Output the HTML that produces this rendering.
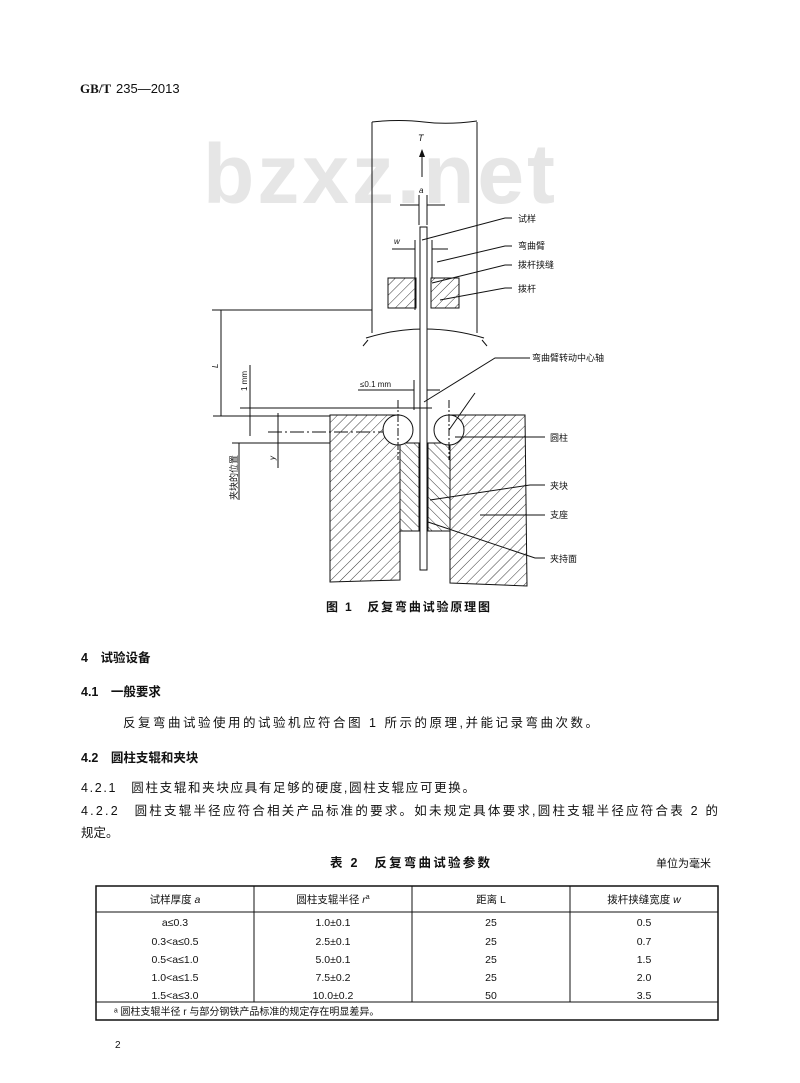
<!DOCTYPE html>
<html><head><meta charset="utf-8"><style>
html,body{margin:0;padding:0;background:#fff}
svg{display:block}
text{font-family:"Liberation Sans","Noto Sans CJK SC",sans-serif;fill:#111}
</style></head><body>
<svg width="800" height="1083" viewBox="0 0 800 1083" xmlns="http://www.w3.org/2000/svg">
<defs>
<pattern id="h" width="7" height="7" patternUnits="userSpaceOnUse" patternTransform="rotate(45)">
<line x1="0" y1="0" x2="0" y2="7" stroke="#222" stroke-width="0.9"/></pattern>
<pattern id="h2" width="7" height="7" patternUnits="userSpaceOnUse" patternTransform="rotate(-45)">
<line x1="0" y1="0" x2="0" y2="7" stroke="#222" stroke-width="0.9"/></pattern>
<marker id="ar" markerWidth="8" markerHeight="6" refX="7" refY="3" orient="auto"><path d="M0,0L8,3L0,6z" fill="#111"/></marker>
</defs>
<text x="80" y="93" font-size="13" font-weight="bold" style="font-family:'Liberation Serif',serif">GB/T</text>
<text x="116" y="93" font-size="13">235—2013</text>

<text x="203" y="203" font-size="84" font-weight="bold" style="fill:#e6e6e6" textLength="352">bzxz.net</text>

<g stroke="#111" fill="none" stroke-width="1">
<path d="M372,122 L372,333 M477,122 L477,333 M372,122 Q400,119 424,122 T477,121"/>
<path d="M366,338 Q424,320 484,338" />
<path d="M368,340 l-5,6 M482,340 l5,6"/>
<line x1="422" y1="177" x2="422" y2="150" marker-end="url(#ar)"/>
<line x1="419" y1="195" x2="419" y2="225"/><line x1="427" y1="195" x2="427" y2="225"/>
<line x1="400" y1="205" x2="419" y2="205"/><line x1="427" y1="205" x2="445" y2="205"/>
<rect x="420" y="227" width="7" height="343" fill="#fff"/>
<line x1="392" y1="249" x2="415" y2="249"/><line x1="432" y1="249" x2="448" y2="249"/>
<line x1="415" y1="240" x2="415" y2="310"/><line x1="432" y1="240" x2="432" y2="278"/>
<rect x="388" y="278" width="28" height="30" fill="url(#h)"/>
<rect x="431" y="278" width="28" height="30" fill="url(#h)"/>
<path d="M422,240 L505,218 L512,218"/>
<path d="M437,262 L505,246 L512,246"/>
<path d="M432,283 L505,265 L512,265"/>
<path d="M440,300 L505,288 L512,288"/>
<line x1="212" y1="310" x2="372" y2="310"/>
<line x1="221" y1="310" x2="221" y2="416"/>
<line x1="213" y1="416" x2="330" y2="416"/>
<line x1="240" y1="408" x2="432" y2="408"/>
<line x1="250" y1="365" x2="250" y2="436"/>
<line x1="268" y1="432" x2="460" y2="432" stroke-dasharray="14,3,2,3"/>
<line x1="278" y1="413" x2="278" y2="468"/>
<line x1="232" y1="443" x2="330" y2="443"/>
<line x1="239" y1="443" x2="239" y2="500"/>
<line x1="358" y1="390" x2="414" y2="390"/><line x1="414" y1="380" x2="414" y2="410"/>
<line x1="427" y1="390" x2="440" y2="390"/>
<path d="M424,402 L495,358 L530,358"/>
<path d="M330,415 L400,415 L400,580 L330,582 Z" fill="url(#h)"/>
<path d="M450,415 L525,415 L527,586 L450,583 Z" fill="url(#h)"/>
<rect x="400" y="443" width="19" height="88" fill="url(#h2)"/>
<rect x="428" y="443" width="22" height="88" fill="url(#h2)"/>
<line x1="400" y1="531" x2="450" y2="531"/>
<rect x="400" y="414" width="50" height="29" fill="#fff" stroke="none"/>
<line x1="400" y1="443" x2="450" y2="443"/>
<circle cx="398" cy="430" r="15" fill="#fff"/>
<circle cx="449" cy="430" r="15" fill="#fff"/>
<line x1="398" y1="400" x2="398" y2="460" stroke-dasharray="8,2,2,2"/>
<line x1="449" y1="400" x2="449" y2="460" stroke-dasharray="8,2,2,2"/>
<line x1="449" y1="430" x2="470" y2="400"/><line x1="470" y1="400" x2="475" y2="393"/>
<rect x="420" y="408" width="7" height="162" fill="#fff"/>
<path d="M455,437 L545,437"/>
<path d="M430,500 L530,485 L545,485"/>
<path d="M480,515 L545,515"/>
<path d="M428,522 L535,558 L545,558"/>
<rect x="96" y="886" width="622" height="134" stroke-width="1.5"/>
<line x1="96" y1="912" x2="718" y2="912"/>
<line x1="96" y1="1002" x2="718" y2="1002"/>
<line x1="254" y1="886" x2="254" y2="1002"/><line x1="412" y1="886" x2="412" y2="1002"/><line x1="570" y1="886" x2="570" y2="1002"/>
</g>
<g font-size="9">
<text x="418" y="141" font-style="italic">T</text>
<text x="419" y="193" font-style="italic" font-size="8">a</text>
<text x="394" y="244" font-style="italic" font-size="8">w</text>
<text x="518" y="222">试样</text>
<text x="518" y="249">弯曲臂</text>
<text x="518" y="268">拨杆挟缝</text>
<text x="518" y="292">拨杆</text>
<text x="532" y="361">弯曲臂转动中心轴</text>
<text x="360" y="387" font-size="8">≤0.1 mm</text>
<text x="550" y="441">圆柱</text>
<text x="550" y="489">夹块</text>
<text x="550" y="518">支座</text>
<text x="550" y="562">夹持面</text>
<text x="0" y="0" font-size="8" transform="translate(247,391) rotate(-90)">1 mm</text>
<text x="0" y="0" font-size="8" font-style="italic" transform="translate(218,368) rotate(-90)">L</text>
<text x="0" y="0" font-size="8" font-style="italic" transform="translate(275,460) rotate(-90)">y</text>
<text x="0" y="0" font-size="9" transform="translate(237,500) rotate(-90)">夹块的位置</text>
</g>
<text x="326" y="611" font-size="12" font-weight="bold" textLength="164">图 1　反复弯曲试验原理图</text>

<g font-size="12.5">
<text x="81" y="662" font-weight="bold">4　试验设备</text>
<text x="81" y="696" font-weight="bold">4.1　一般要求</text>
<text x="123" y="727" textLength="475">反复弯曲试验使用的试验机应符合图 1 所示的原理,并能记录弯曲次数。</text>
<text x="81" y="762" font-weight="bold">4.2　圆柱支辊和夹块</text>
<text x="81" y="792" textLength="394">4.2.1　圆柱支辊和夹块应具有足够的硬度,圆柱支辊应可更换。</text>
<text x="81" y="815" textLength="637">4.2.2　圆柱支辊半径应符合相关产品标准的要求。如未规定具体要求,圆柱支辊半径应符合表 2 的</text>
<text x="81" y="837">规定。</text>
<text x="330" y="867" font-weight="bold" textLength="160">表 2　反复弯曲试验参数</text>
<text x="656" y="867" font-size="11">单位为毫米</text>
</g>
<g font-size="10.5" text-anchor="middle">
<text x="175" y="903">试样厚度 <tspan font-style="italic">a</tspan></text>
<text x="333" y="903">圆柱支辊半径 <tspan font-style="italic">r</tspan><tspan font-size="7" dy="-4">a</tspan></text>
<text x="491" y="903">距离 L</text>
<text x="644" y="903">拨杆挟缝宽度 <tspan font-style="italic">w</tspan></text>
<text x="175" y="926">a≤0.3</text><text x="333" y="926">1.0±0.1</text><text x="491" y="926">25</text><text x="644" y="926">0.5</text>
<text x="175" y="945">0.3&lt;a≤0.5</text><text x="333" y="945">2.5±0.1</text><text x="491" y="945">25</text><text x="644" y="945">0.7</text>
<text x="175" y="963">0.5&lt;a≤1.0</text><text x="333" y="963">5.0±0.1</text><text x="491" y="963">25</text><text x="644" y="963">1.5</text>
<text x="175" y="981">1.0&lt;a≤1.5</text><text x="333" y="981">7.5±0.2</text><text x="491" y="981">25</text><text x="644" y="981">2.0</text>
<text x="175" y="999">1.5&lt;a≤3.0</text><text x="333" y="999">10.0±0.2</text><text x="491" y="999">50</text><text x="644" y="999">3.5</text>
</g>
<text x="114" y="1015" font-size="10">ᵃ  圆柱支辊半径 r 与部分钢铁产品标准的规定存在明显差异。</text>
<text x="115" y="1048" font-size="10">2</text>
</svg>
</body></html>
